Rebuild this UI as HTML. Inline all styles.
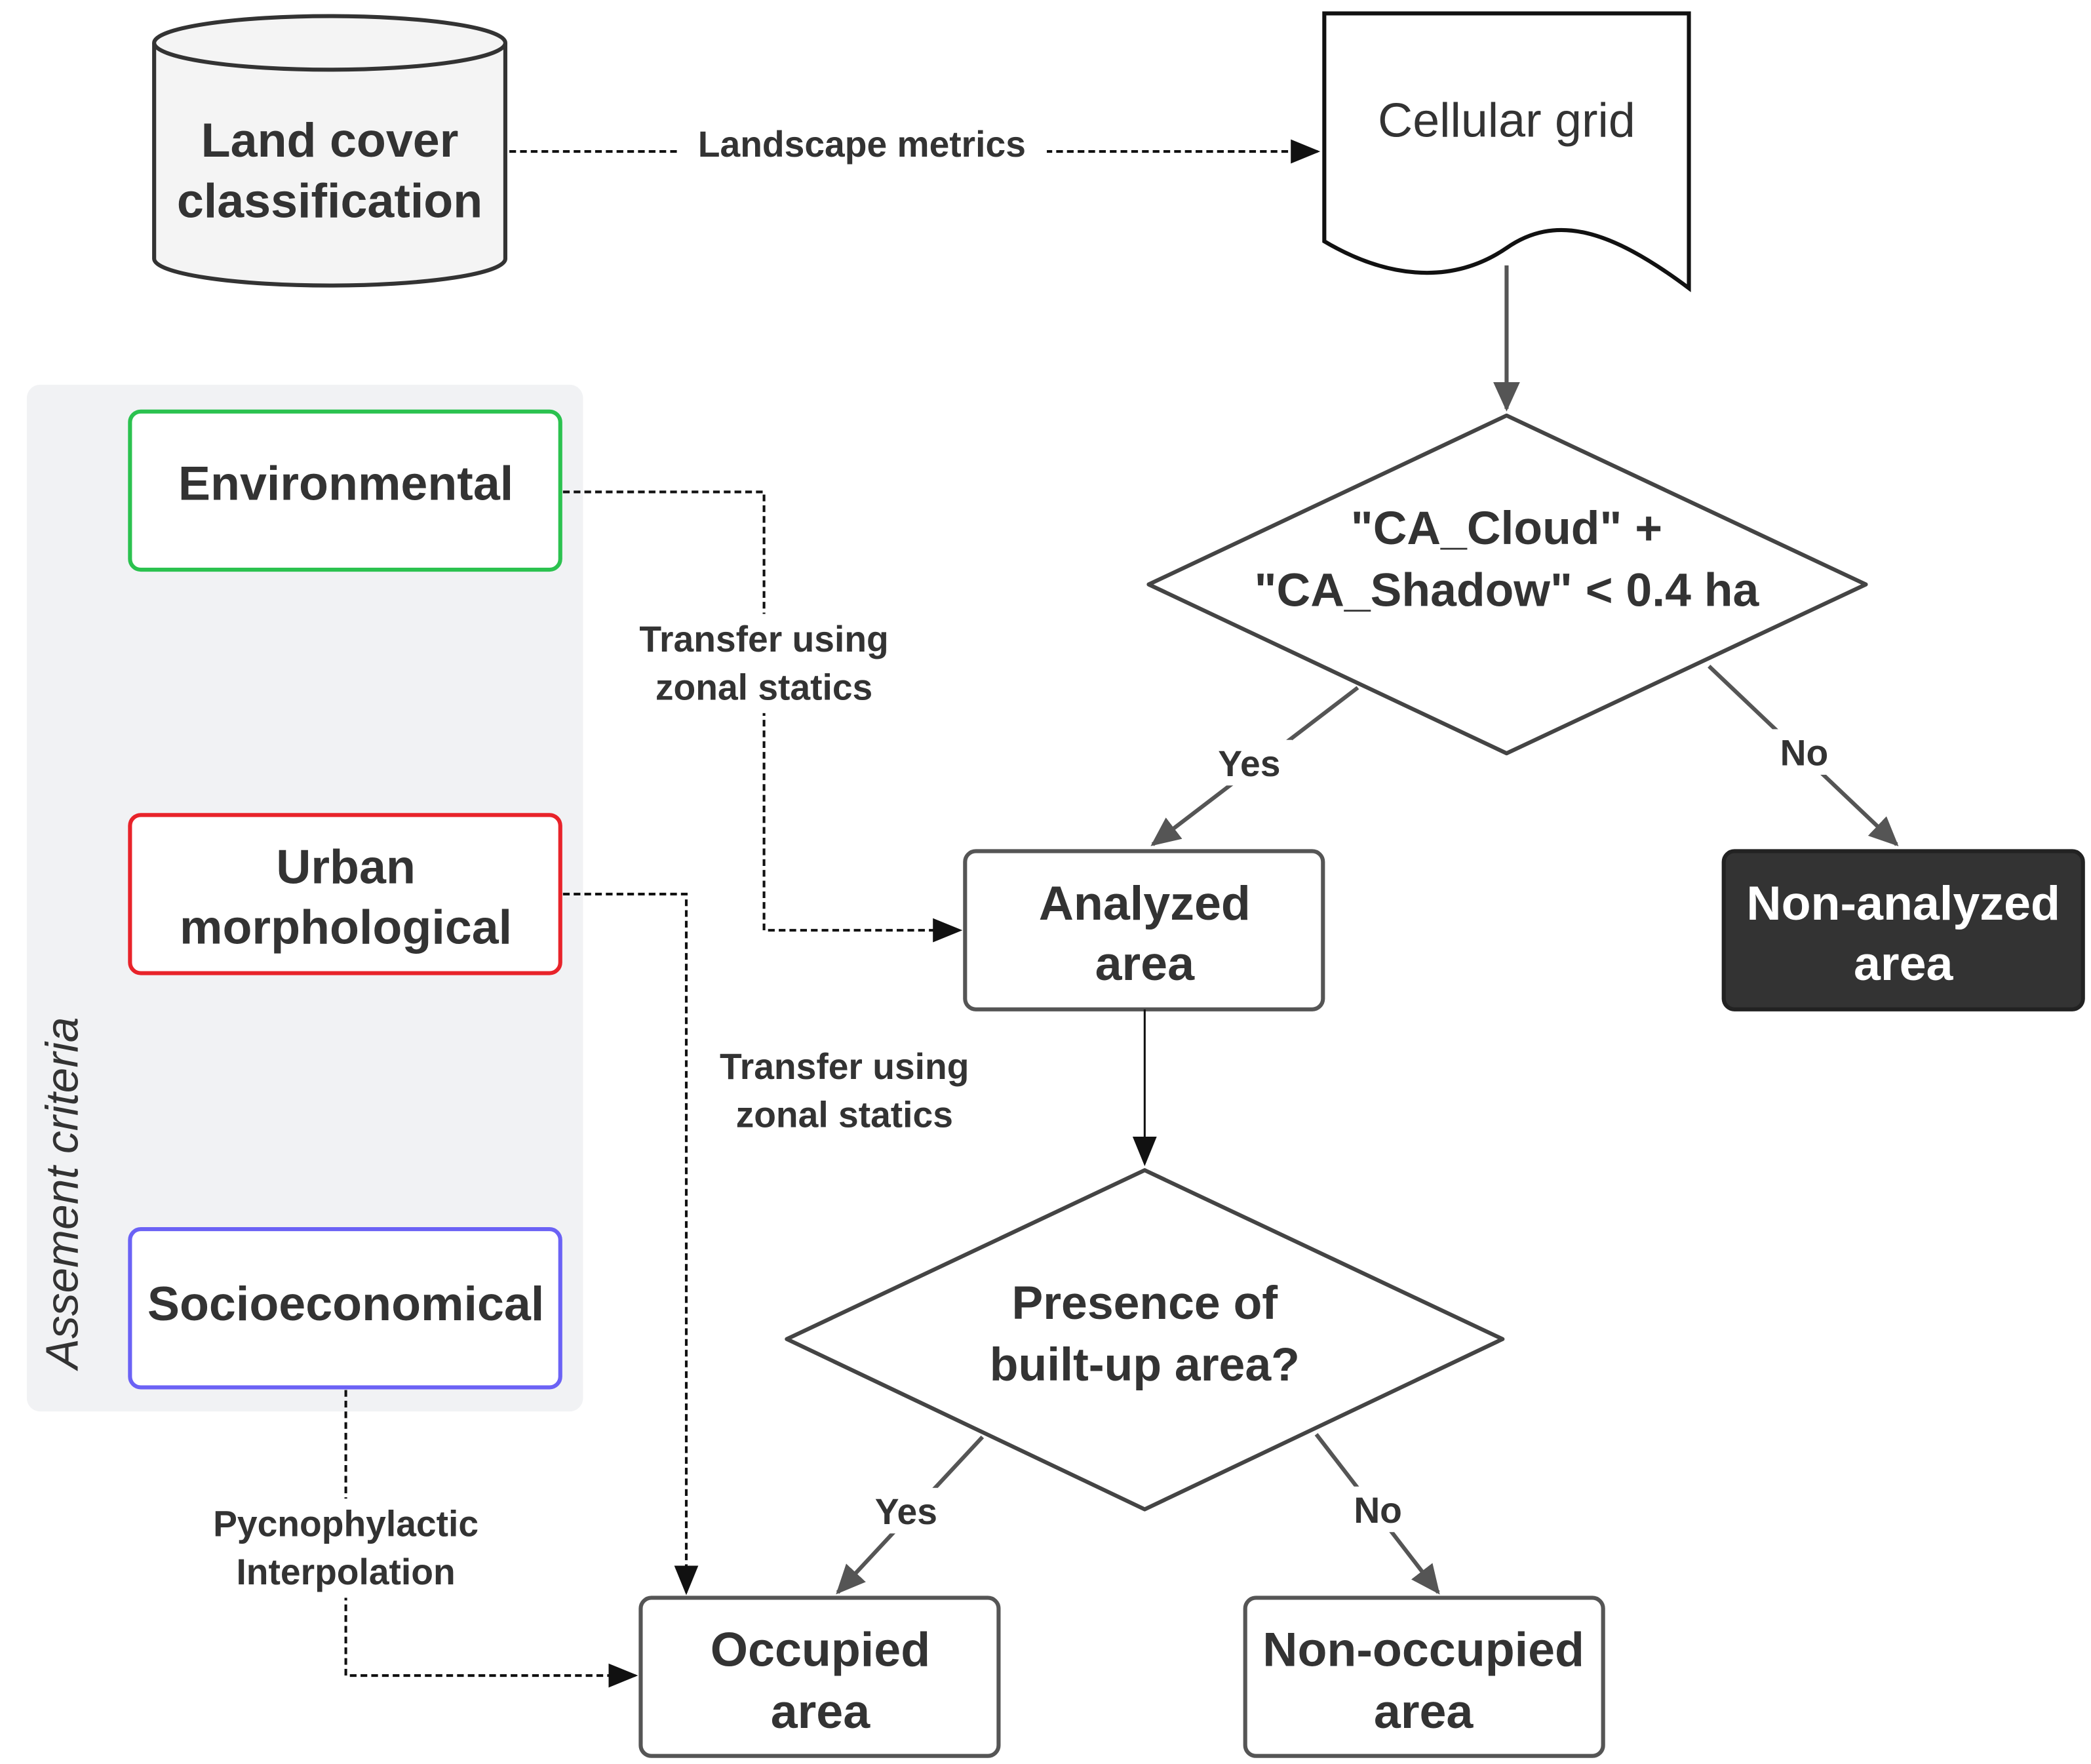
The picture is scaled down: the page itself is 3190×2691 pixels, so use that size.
<!DOCTYPE html>
<html><head><meta charset="utf-8"><style>
html,body{margin:0;padding:0;background:#fff;}
svg{display:block;}
text{font-family:"Liberation Sans",Arial,sans-serif;fill:#333;text-anchor:middle;}
.b{font-weight:bold;}
</style></head><body>
<svg width="3190" height="2691" viewBox="0 0 1560 1316" preserveAspectRatio="none" xmlns="http://www.w3.org/2000/svg">
<defs>
<marker id="ab" markerWidth="10" markerHeight="10" refX="9" refY="5" orient="auto" markerUnits="userSpaceOnUse" viewBox="0 0 10 10"><path d="M0,0 L10,5 L0,10 z" fill="#111"/></marker>
<marker id="ag" markerWidth="24" markerHeight="24" refX="20" refY="12" orient="auto" markerUnits="userSpaceOnUse" viewBox="0 0 24 24"><path d="M0,2 L22,12 L0,22 z" fill="#555"/></marker>
<marker id="ak" markerWidth="22" markerHeight="22" refX="20" refY="11" orient="auto" markerUnits="userSpaceOnUse" viewBox="0 0 22 22"><path d="M0,2 L22,11 L0,20 z" fill="#111"/></marker>
</defs>

<!-- panel -->
<rect x="20" y="287" width="415" height="766" rx="10" fill="#f1f2f4"/>
<text x="58" y="890" font-size="34" font-style="italic" transform="rotate(-90 58 890)">Assement criteria</text>

<!-- cylinder -->
<path d="M115,32 L115,193 A131,20 0 0 0 377,193 L377,32" fill="#f4f4f4" stroke="#333" stroke-width="3"/>
<ellipse cx="246" cy="32" rx="131" ry="20" fill="#f4f4f4" stroke="#333" stroke-width="3"/>
<text class="b" x="246" y="117" font-size="36">Land cover</text>
<text class="b" x="246" y="162" font-size="36">classification</text>

<!-- landscape metrics arrow -->
<line x1="380" y1="113" x2="983" y2="113" stroke="#111" stroke-width="2" stroke-dasharray="5,3" marker-end="url(#ak)"/>
<rect x="505" y="92" width="276" height="32" fill="#fff"/>
<text class="b" x="643" y="117" font-size="27">Landscape metrics</text>

<!-- document -->
<path d="M988,10 L1260,10 L1260,215 C1200,170 1160,160 1124,185 C1080,215 1030,205 988,180 Z" fill="#fff" stroke="#111" stroke-width="3"/>
<text x="1124" y="102" font-size="36">Cellular grid</text>
<line x1="1124" y1="198" x2="1124" y2="305" stroke="#555" stroke-width="3" marker-end="url(#ag)"/>

<!-- diamond 1 -->
<path d="M1124,310 L1392,436 L1124,562 L857,436 Z" fill="#fff" stroke="#444" stroke-width="3" stroke-linejoin="round"/>
<text class="b" x="1124" y="406" font-size="35">"CA_Cloud" +</text>
<text class="b" x="1124" y="452" font-size="35">"CA_Shadow" &lt; 0.4 ha</text>

<line x1="1013" y1="513" x2="860" y2="630" stroke="#555" stroke-width="3" marker-end="url(#ag)"/>
<rect x="900" y="552" width="64" height="34" fill="#fff"/>
<text class="b" x="932" y="579" font-size="27">Yes</text>
<line x1="1275" y1="497" x2="1415" y2="630" stroke="#555" stroke-width="3" marker-end="url(#ag)"/>
<rect x="1322" y="544" width="50" height="34" fill="#fff"/>
<text class="b" x="1346" y="571" font-size="27">No</text>

<!-- analyzed -->
<rect x="720" y="635" width="267" height="118" rx="8" fill="#fff" stroke="#555" stroke-width="3"/>
<text class="b" x="854" y="686" font-size="36">Analyzed</text>
<text class="b" x="854" y="731" font-size="36">area</text>

<rect x="1286" y="635" width="268" height="118" rx="8" fill="#333" stroke="#222" stroke-width="3"/>
<text class="b" x="1420" y="686" font-size="36" style="fill:#fff">Non-analyzed</text>
<text class="b" x="1420" y="731" font-size="36" style="fill:#fff">area</text>

<!-- criteria boxes -->
<rect x="97" y="307" width="321" height="118" rx="8" fill="#fff" stroke="#2bc24f" stroke-width="3"/>
<text class="b" x="258" y="373" font-size="36">Environmental</text>
<rect x="97" y="608" width="321" height="118" rx="8" fill="#fff" stroke="#e8232a" stroke-width="3"/>
<text class="b" x="258" y="659" font-size="36">Urban</text>
<text class="b" x="258" y="704" font-size="36">morphological</text>
<rect x="97" y="917" width="321" height="118" rx="8" fill="#fff" stroke="#6b62f5" stroke-width="3"/>
<text class="b" x="258" y="985" font-size="36">Socioeconomical</text>

<!-- env dashed -->
<polyline points="420,367 570,367 570,694 716,694" fill="none" stroke="#111" stroke-width="2" stroke-dasharray="5,3" marker-end="url(#ak)"/>
<rect x="462" y="458" width="216" height="74" fill="#fff"/>
<text class="b" x="570" y="486" font-size="27">Transfer using</text>
<text class="b" x="570" y="522" font-size="27">zonal statics</text>

<!-- urban dashed -->
<polyline points="420,667 512,667 512,1188" fill="none" stroke="#111" stroke-width="2" stroke-dasharray="5,3" marker-end="url(#ak)"/>
<text class="b" x="630" y="805" font-size="27">Transfer using</text>
<text class="b" x="630" y="841" font-size="27">zonal statics</text>

<!-- socio dashed -->
<polyline points="258,1037 258,1250 474,1250" fill="none" stroke="#111" stroke-width="2" stroke-dasharray="5,3" marker-end="url(#ak)"/>
<rect x="145" y="1118" width="226" height="74" fill="#fff"/>
<text class="b" x="258" y="1146" font-size="27">Pycnophylactic</text>
<text class="b" x="258" y="1182" font-size="27">Interpolation</text>

<!-- analyzed to diamond2 -->
<line x1="854" y1="753" x2="854" y2="868" stroke="#111" stroke-width="1.5" marker-end="url(#ak)"/>

<!-- diamond 2 -->
<path d="M854,873 L1121,999 L854,1126 L587,999 Z" fill="#fff" stroke="#444" stroke-width="3" stroke-linejoin="round"/>
<text class="b" x="854" y="984" font-size="35">Presence of</text>
<text class="b" x="854" y="1030" font-size="35">built-up area?</text>

<line x1="733" y1="1072" x2="625" y2="1188" stroke="#555" stroke-width="3" marker-end="url(#ag)"/>
<rect x="645" y="1110" width="62" height="34" fill="#fff"/>
<text class="b" x="676" y="1137" font-size="27">Yes</text>
<line x1="982" y1="1070" x2="1073" y2="1188" stroke="#555" stroke-width="3" marker-end="url(#ag)"/>
<rect x="1004" y="1109" width="50" height="34" fill="#fff"/>
<text class="b" x="1028" y="1136" font-size="27">No</text>

<!-- bottom boxes -->
<rect x="478" y="1192" width="267" height="118" rx="8" fill="#fff" stroke="#555" stroke-width="3"/>
<text class="b" x="612" y="1243" font-size="36">Occupied</text>
<text class="b" x="612" y="1289" font-size="36">area</text>
<rect x="929" y="1192" width="267" height="118" rx="8" fill="#fff" stroke="#555" stroke-width="3"/>
<text class="b" x="1062" y="1243" font-size="36">Non-occupied</text>
<text class="b" x="1062" y="1289" font-size="36">area</text>
</svg>
</body></html>
